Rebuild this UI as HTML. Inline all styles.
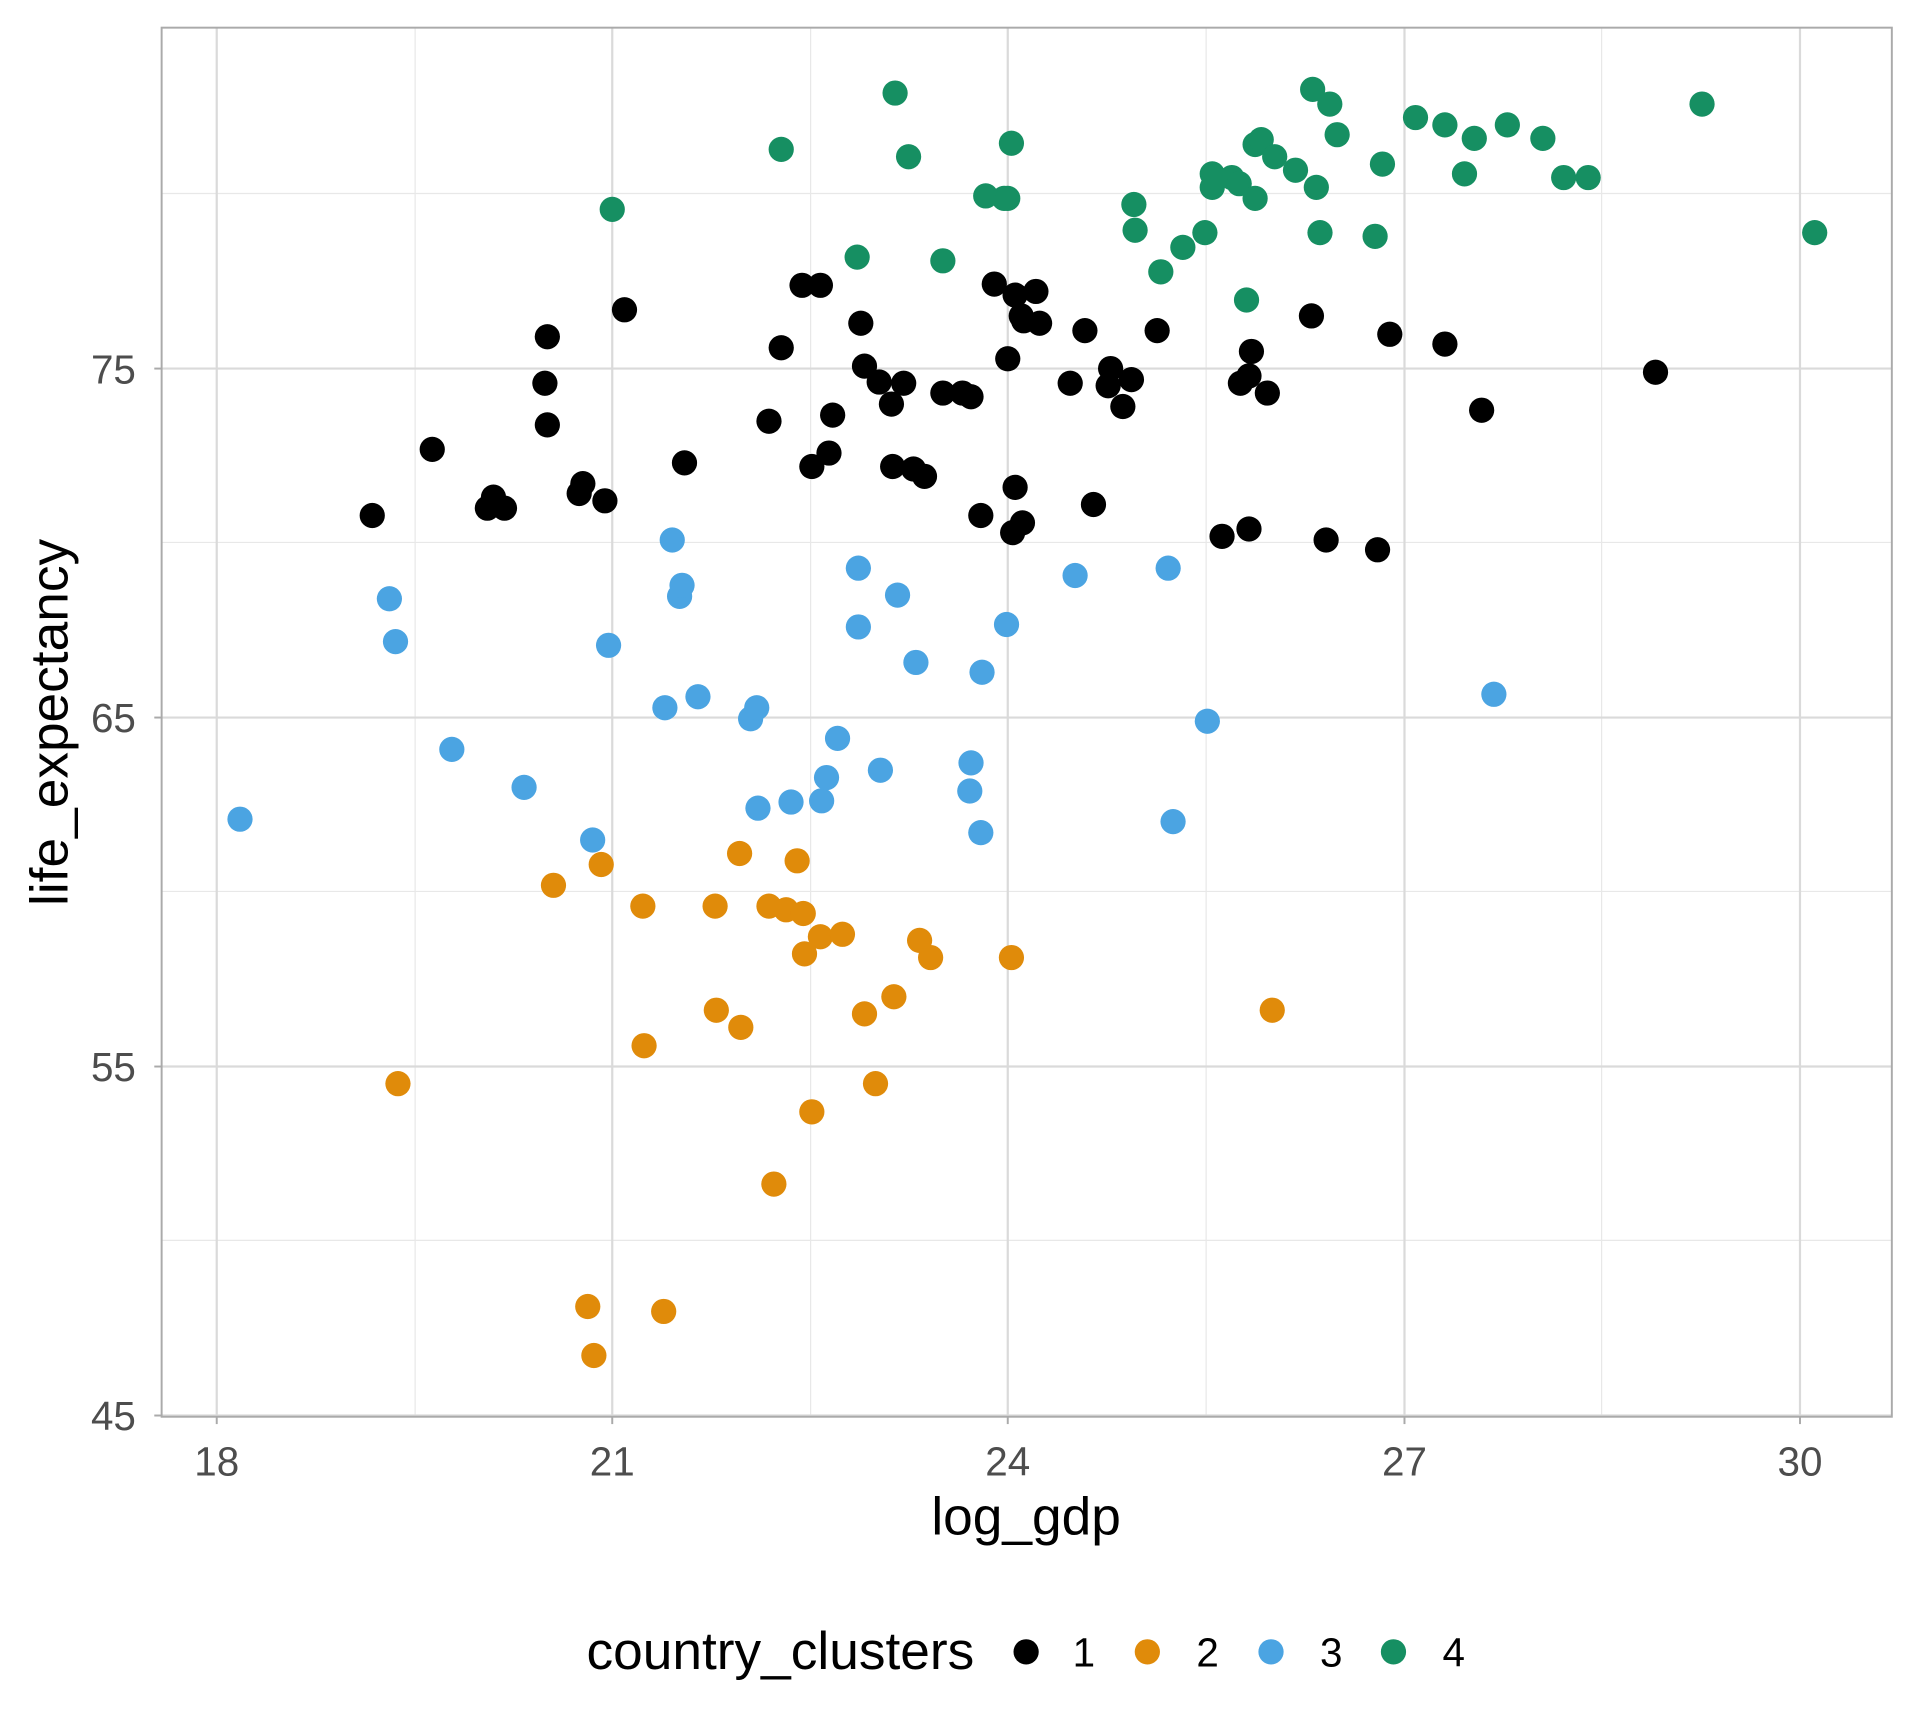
<!DOCTYPE html>
<html><head><meta charset="utf-8"><style>html,body{margin:0;padding:0;background:#fff}svg{display:block}</style></head><body>
<svg width="1920" height="1728" viewBox="0 0 1568 1411.2" preserveAspectRatio="none" xmlns="http://www.w3.org/2000/svg" font-family="Liberation Sans, Arial, sans-serif">
<rect width="1568" height="1411.2" fill="#fff"/>
<g stroke="#e8e8e8" stroke-width="1">
<line x1="339" y1="22.6" x2="339" y2="1157"/><line x1="662" y1="22.6" x2="662" y2="1157"/><line x1="985" y1="22.6" x2="985" y2="1157"/><line x1="1308" y1="22.6" x2="1308" y2="1157"/>
<line x1="132" y1="1013" x2="1545" y2="1013"/><line x1="132" y1="728" x2="1545" y2="728"/><line x1="132" y1="443" x2="1545" y2="443"/><line x1="132" y1="158" x2="1545" y2="158"/>
</g>
<g stroke="#dadada" stroke-width="1.8">
<line x1="177" y1="22.6" x2="177" y2="1157"/><line x1="500" y1="22.6" x2="500" y2="1157"/><line x1="823" y1="22.6" x2="823" y2="1157"/><line x1="1147" y1="22.6" x2="1147" y2="1157"/><line x1="1470" y1="22.6" x2="1470" y2="1157"/>
<line x1="132" y1="1156" x2="1545" y2="1156"/><line x1="132" y1="871" x2="1545" y2="871"/><line x1="132" y1="586" x2="1545" y2="586"/><line x1="132" y1="301" x2="1545" y2="301"/>
</g>
<rect x="132" y="22.6" width="1413" height="1134.4" fill="none" stroke="#aaa" stroke-width="1.6"/>
<g stroke="#aaa" stroke-width="1.6">
<line x1="177" y1="1157" x2="177" y2="1163"/><line x1="500" y1="1157" x2="500" y2="1163"/><line x1="823" y1="1157" x2="823" y2="1163"/><line x1="1147" y1="1157" x2="1147" y2="1163"/><line x1="1470" y1="1157" x2="1470" y2="1163"/>
<line x1="126" y1="1156" x2="132" y2="1156"/><line x1="126" y1="871" x2="132" y2="871"/><line x1="126" y1="586" x2="132" y2="586"/><line x1="126" y1="301" x2="132" y2="301"/>
</g>
<g fill="#4d4d4d" font-size="33" text-anchor="middle">
<text x="177" y="1205">18</text><text x="500" y="1205">21</text><text x="823" y="1205">24</text><text x="1147" y="1205">27</text><text x="1470" y="1205">30</text>
</g>
<g fill="#4d4d4d" font-size="33" text-anchor="end">
<text x="111" y="1168">45</text><text x="111" y="883">55</text><text x="111" y="598">65</text><text x="111" y="313">75</text>
</g>
<text x="838" y="1253" font-size="43.5" text-anchor="middle" fill="#000">log_gdp</text>
<text transform="translate(55,590) rotate(-90)" font-size="43.5" text-anchor="middle" fill="#000">life_expectancy</text>
<g fill="#000">
<circle cx="304" cy="421" r="10.3"/><circle cx="353" cy="367" r="10.3"/><circle cx="398" cy="415" r="10.3"/><circle cx="403" cy="406" r="10.3"/><circle cx="412" cy="415" r="10.3"/><circle cx="447" cy="275" r="10.3"/><circle cx="445" cy="313" r="10.3"/><circle cx="447" cy="347" r="10.3"/><circle cx="473" cy="403" r="10.3"/><circle cx="476" cy="395" r="10.3"/><circle cx="494" cy="409" r="10.3"/><circle cx="510" cy="253" r="10.3"/><circle cx="559" cy="378" r="10.3"/><circle cx="628" cy="344" r="10.3"/><circle cx="638" cy="284" r="10.3"/><circle cx="655" cy="233" r="10.3"/><circle cx="670" cy="233" r="10.3"/><circle cx="663" cy="381" r="10.3"/><circle cx="677" cy="370" r="10.3"/><circle cx="680" cy="339" r="10.3"/><circle cx="703" cy="264" r="10.3"/><circle cx="706" cy="299" r="10.3"/><circle cx="718" cy="312" r="10.3"/><circle cx="728" cy="330" r="10.3"/><circle cx="729" cy="381" r="10.3"/><circle cx="738" cy="313" r="10.3"/><circle cx="746" cy="383" r="10.3"/><circle cx="755" cy="389" r="10.3"/><circle cx="770" cy="321" r="10.3"/><circle cx="786" cy="321" r="10.3"/><circle cx="793" cy="324" r="10.3"/><circle cx="801" cy="421" r="10.3"/><circle cx="812" cy="232" r="10.3"/><circle cx="823" cy="293" r="10.3"/><circle cx="827" cy="435" r="10.3"/><circle cx="829" cy="398" r="10.3"/><circle cx="829" cy="241" r="10.3"/><circle cx="835" cy="427" r="10.3"/><circle cx="834" cy="258" r="10.3"/><circle cx="846" cy="238" r="10.3"/><circle cx="849" cy="264" r="10.3"/><circle cx="836" cy="262" r="10.3"/><circle cx="874" cy="313" r="10.3"/><circle cx="886" cy="270" r="10.3"/><circle cx="893" cy="412" r="10.3"/><circle cx="907" cy="301" r="10.3"/><circle cx="905" cy="315" r="10.3"/><circle cx="924" cy="310" r="10.3"/><circle cx="917" cy="332" r="10.3"/><circle cx="945" cy="270" r="10.3"/><circle cx="998" cy="438" r="10.3"/><circle cx="1013" cy="313" r="10.3"/><circle cx="1020" cy="307" r="10.3"/><circle cx="1022" cy="287" r="10.3"/><circle cx="1020" cy="432" r="10.3"/><circle cx="1035" cy="321" r="10.3"/><circle cx="1071" cy="258" r="10.3"/><circle cx="1083" cy="441" r="10.3"/><circle cx="1125" cy="449" r="10.3"/><circle cx="1135" cy="273" r="10.3"/><circle cx="1180" cy="281" r="10.3"/><circle cx="1210" cy="335" r="10.3"/><circle cx="1352" cy="304" r="10.3"/>
</g>
<g fill="#e08b0a">
<circle cx="325" cy="885" r="10.3"/><circle cx="452" cy="723" r="10.3"/><circle cx="491" cy="706" r="10.3"/><circle cx="525" cy="740" r="10.3"/><circle cx="480" cy="1067" r="10.3"/><circle cx="485" cy="1107" r="10.3"/><circle cx="526" cy="854" r="10.3"/><circle cx="542" cy="1071" r="10.3"/><circle cx="584" cy="740" r="10.3"/><circle cx="585" cy="825" r="10.3"/><circle cx="605" cy="839" r="10.3"/><circle cx="604" cy="697" r="10.3"/><circle cx="628" cy="740" r="10.3"/><circle cx="632" cy="967" r="10.3"/><circle cx="642" cy="743" r="10.3"/><circle cx="651" cy="703" r="10.3"/><circle cx="656" cy="746" r="10.3"/><circle cx="657" cy="779" r="10.3"/><circle cx="663" cy="908" r="10.3"/><circle cx="670" cy="765" r="10.3"/><circle cx="688" cy="763" r="10.3"/><circle cx="706" cy="828" r="10.3"/><circle cx="715" cy="885" r="10.3"/><circle cx="730" cy="814" r="10.3"/><circle cx="751" cy="768" r="10.3"/><circle cx="760" cy="782" r="10.3"/><circle cx="826" cy="782" r="10.3"/><circle cx="1039" cy="825" r="10.3"/>
</g>
<g fill="#4ba4e2">
<circle cx="196" cy="669" r="10.3"/><circle cx="318" cy="489" r="10.3"/><circle cx="323" cy="524" r="10.3"/><circle cx="369" cy="612" r="10.3"/><circle cx="428" cy="643" r="10.3"/><circle cx="484" cy="686" r="10.3"/><circle cx="497" cy="527" r="10.3"/><circle cx="543" cy="578" r="10.3"/><circle cx="549" cy="441" r="10.3"/><circle cx="555" cy="487" r="10.3"/><circle cx="557" cy="478" r="10.3"/><circle cx="570" cy="569" r="10.3"/><circle cx="613" cy="587" r="10.3"/><circle cx="618" cy="578" r="10.3"/><circle cx="619" cy="660" r="10.3"/><circle cx="646" cy="655" r="10.3"/><circle cx="671" cy="654" r="10.3"/><circle cx="675" cy="635" r="10.3"/><circle cx="684" cy="603" r="10.3"/><circle cx="701" cy="464" r="10.3"/><circle cx="701" cy="512" r="10.3"/><circle cx="719" cy="629" r="10.3"/><circle cx="733" cy="486" r="10.3"/><circle cx="748" cy="541" r="10.3"/><circle cx="793" cy="623" r="10.3"/><circle cx="792" cy="646" r="10.3"/><circle cx="801" cy="680" r="10.3"/><circle cx="802" cy="549" r="10.3"/><circle cx="822" cy="510" r="10.3"/><circle cx="878" cy="470" r="10.3"/><circle cx="954" cy="464" r="10.3"/><circle cx="958" cy="671" r="10.3"/><circle cx="986" cy="589" r="10.3"/><circle cx="1220" cy="567" r="10.3"/>
</g>
<g fill="#168f62">
<circle cx="500" cy="171" r="10.3"/><circle cx="638" cy="122" r="10.3"/><circle cx="700" cy="210" r="10.3"/><circle cx="731" cy="76" r="10.3"/><circle cx="742" cy="128" r="10.3"/><circle cx="770" cy="213" r="10.3"/><circle cx="805" cy="160" r="10.3"/><circle cx="820" cy="162" r="10.3"/><circle cx="823" cy="162" r="10.3"/><circle cx="826" cy="117" r="10.3"/><circle cx="926" cy="167" r="10.3"/><circle cx="927" cy="188" r="10.3"/><circle cx="948" cy="222" r="10.3"/><circle cx="966" cy="202" r="10.3"/><circle cx="984" cy="190" r="10.3"/><circle cx="990" cy="142" r="10.3"/><circle cx="990" cy="153" r="10.3"/><circle cx="1006" cy="145" r="10.3"/><circle cx="1012" cy="150" r="10.3"/><circle cx="1018" cy="245" r="10.3"/><circle cx="1025" cy="162" r="10.3"/><circle cx="1025" cy="118" r="10.3"/><circle cx="1030" cy="114" r="10.3"/><circle cx="1041" cy="128" r="10.3"/><circle cx="1058" cy="139" r="10.3"/><circle cx="1072" cy="73" r="10.3"/><circle cx="1075" cy="153" r="10.3"/><circle cx="1078" cy="190" r="10.3"/><circle cx="1086" cy="85" r="10.3"/><circle cx="1092" cy="110" r="10.3"/><circle cx="1123" cy="193" r="10.3"/><circle cx="1129" cy="134" r="10.3"/><circle cx="1156" cy="96" r="10.3"/><circle cx="1180" cy="102" r="10.3"/><circle cx="1196" cy="142" r="10.3"/><circle cx="1204" cy="113" r="10.3"/><circle cx="1231" cy="102" r="10.3"/><circle cx="1260" cy="113" r="10.3"/><circle cx="1277" cy="145" r="10.3"/><circle cx="1297" cy="145" r="10.3"/><circle cx="1390" cy="85" r="10.3"/><circle cx="1482" cy="190" r="10.3"/>
</g>
<text x="479" y="1363" font-size="43.5" fill="#000">country_clusters</text>
<circle cx="838" cy="1349" r="10.3" fill="#000"/><text x="876" y="1361" font-size="33">1</text>
<circle cx="937" cy="1349" r="10.3" fill="#e08b0a"/><text x="977" y="1361" font-size="33">2</text>
<circle cx="1038" cy="1349" r="10.3" fill="#4ba4e2"/><text x="1078" y="1361" font-size="33">3</text>
<circle cx="1138" cy="1349" r="10.3" fill="#168f62"/><text x="1178" y="1361" font-size="33">4</text>
</svg>
</body></html>
